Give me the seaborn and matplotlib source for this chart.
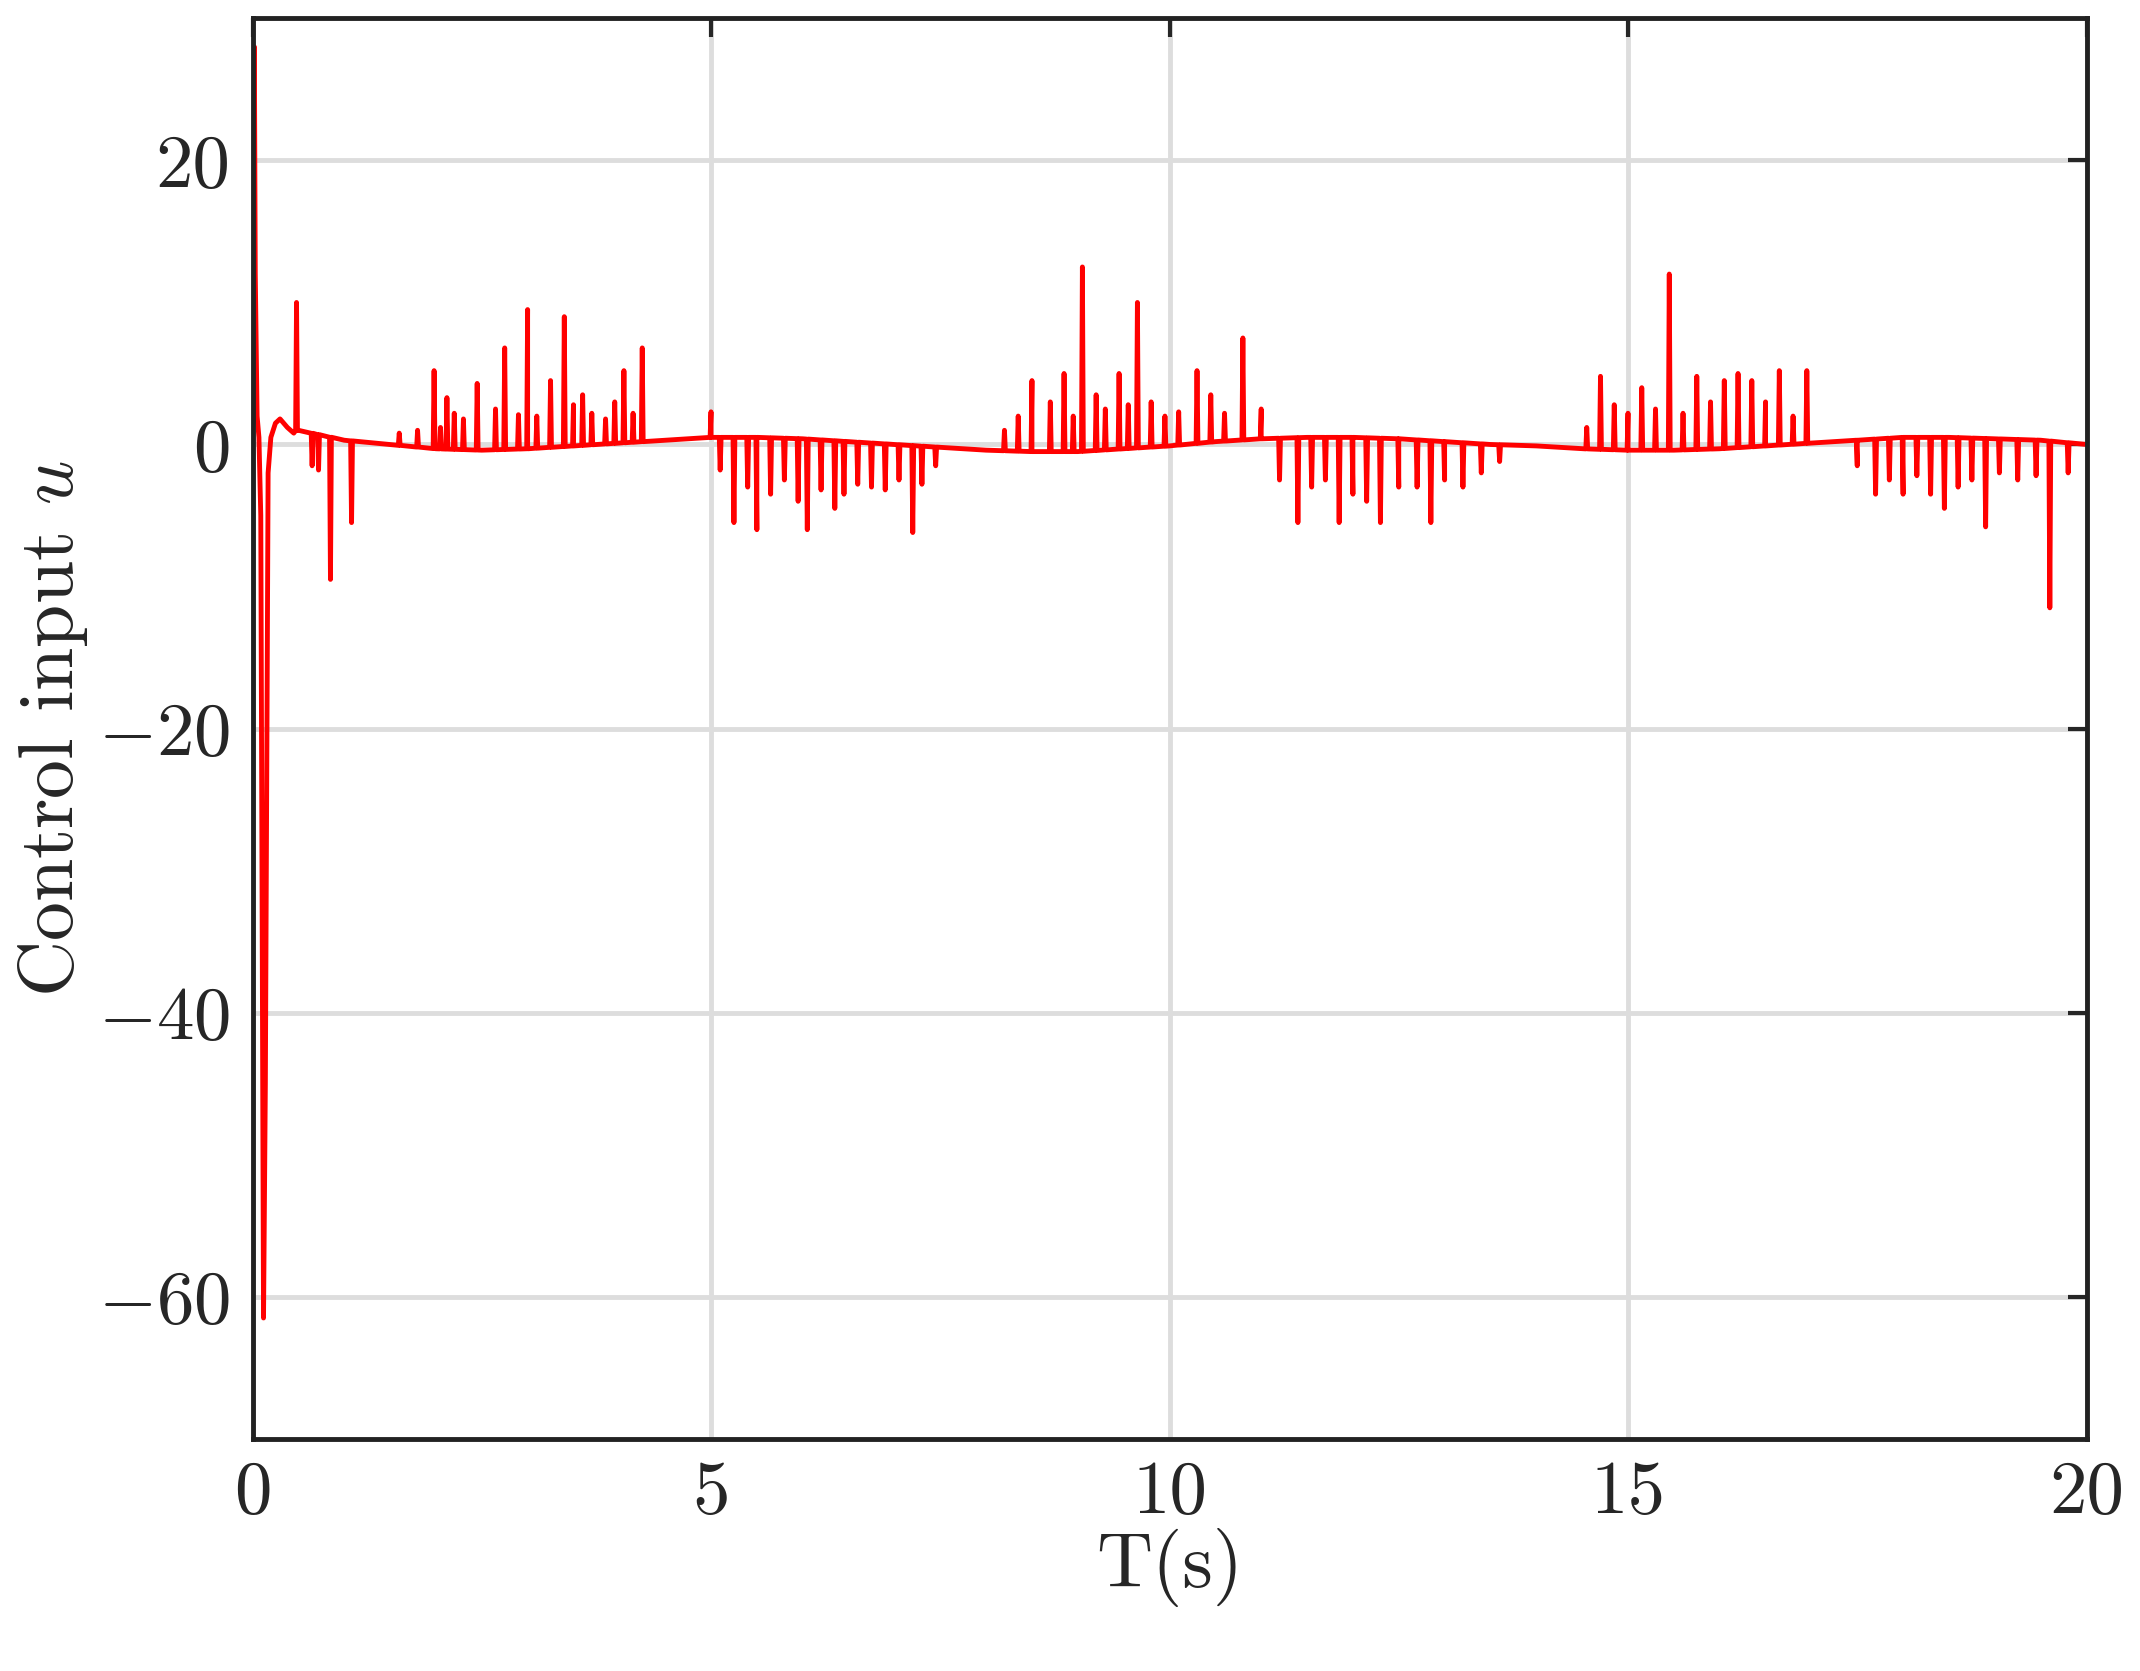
import numpy as np
import pandas as pd
import matplotlib
matplotlib.use("Agg")
import matplotlib.pyplot as plt
import seaborn as sns

# baseline control input (smooth part)
base_t = [0.0,0.5,1.0,1.5,2.0,2.5,3.0,3.5,4.0,4.5,5.0,5.5,6.0,6.5,7.0,7.5,8.0,8.5,9.0,9.5,10.0,
          10.5,11.0,11.5,12.0,12.5,13.0,13.5,14.0,14.5,15.0,15.5,16.0,16.5,17.0,17.5,18.0,18.5,19.0,19.5,20.0]
base_u = [0.5,1.0,0.3,0.0,-0.3,-0.4,-0.3,-0.1,0.1,0.3,0.5,0.5,0.4,0.2,0.0,-0.2,-0.4,-0.5,-0.5,-0.3,-0.1,
          0.2,0.4,0.5,0.5,0.4,0.2,0.0,-0.1,-0.3,-0.4,-0.4,-0.3,-0.1,0.1,0.3,0.5,0.5,0.4,0.3,0.0]

# initial transient
init_t = [0.0,0.02,0.03,0.05,0.07,0.09,0.12,0.14,0.17,0.20,0.25,0.30,0.38,0.45]
init_u = [0.0,28.0,12.0,2.0,0.5,-5.0,-61.5,-45.0,-2.0,0.5,1.5,1.8,1.2,0.8]

# spikes (time, value)
spike_t = [0.48,0.65,0.72,0.85,1.08,1.6,1.8,1.98,2.05,2.12,2.2,2.3,2.45,2.65,2.75,2.9,3.0,3.1,3.25,3.4,3.5,3.6,3.7,3.85,3.95,4.05,4.15,4.25,
           5.0,5.1,5.25,5.4,5.5,5.65,5.8,5.95,6.05,6.2,6.35,6.45,6.6,6.75,6.9,7.05,7.2,7.3,7.45,
           8.2,8.35,8.5,8.7,8.85,8.95,9.05,9.2,9.3,9.45,9.55,9.65,9.8,9.95,10.1,10.3,10.45,10.6,10.8,11.0,
           11.2,11.4,11.55,11.7,11.85,12.0,12.15,12.3,12.5,12.7,12.85,13.0,13.2,13.4,13.6,
           14.55,14.7,14.85,15.0,15.15,15.3,15.45,15.6,15.75,15.9,16.05,16.2,16.35,16.5,16.65,16.8,16.95,
           17.5,17.7,17.85,18.0,18.15,18.3,18.45,18.6,18.75,18.9,19.05,19.25,19.45,19.6,19.8]
spike_u = [10.0,-1.5,-1.8,-9.5,-5.5,0.8,1.0,5.2,1.2,3.3,2.2,1.8,4.3,2.5,6.8,2.1,9.5,2.0,4.5,9.0,2.8,3.5,2.2,1.8,3.0,5.2,2.2,6.8,
           2.3,-1.8,-5.5,-3.0,-6.0,-3.5,-2.5,-4.0,-6.0,-3.2,-4.5,-3.5,-2.8,-3.0,-3.2,-2.5,-6.2,-2.8,-1.5,
           1.0,2.0,4.5,3.0,5.0,2.0,12.5,3.5,2.5,5.0,2.8,10.0,3.0,2.0,2.3,5.2,3.5,2.2,7.5,2.5,
           -2.5,-5.5,-3.0,-2.5,-5.5,-3.5,-4.0,-5.5,-3.0,-3.0,-5.5,-2.5,-3.0,-2.0,-1.2,
           1.2,4.8,2.8,2.2,4.0,2.5,12.0,2.2,4.8,3.0,4.5,5.0,4.5,3.0,5.2,2.0,5.2,
           -1.5,-3.5,-2.5,-3.5,-2.2,-3.5,-4.5,-3.0,-2.5,-5.8,-2.0,-2.5,-2.2,-11.5,-2.0]

x_ticks = [0,5,10,15,20]
y_ticks = [-60,-40,-20,0,20]

# assemble the line: baseline with spikes inserted
bt = np.array(base_t); bu = np.array(base_u)
ts = list(init_t); us = list(init_u)
for t, u in sorted(zip(spike_t, spike_u)):
    b = np.interp(t, bt, bu)
    ts += [t - 0.01, t, t + 0.01]; us += [b, u, b]
for t, u in zip(base_t, base_u):
    if t > 0.45:
        ts.append(t); us.append(u)
order = np.argsort(ts, kind="stable")
df = pd.DataFrame({"t": np.array(ts)[order], "u": np.array(us)[order]})

sns.set_theme(style="white")
plt.rcParams.update({"font.family": "serif", "font.serif": ["cmr10", "DejaVu Serif"],
                     "mathtext.fontset": "cm", "axes.unicode_minus": False,
                     "axes.formatter.use_mathtext": True})

fig = plt.figure(figsize=(21.4, 16.71), dpi=100)
ax = fig.add_axes([0.118, 0.139, 0.857, 0.850])
sns.lineplot(data=df, x="t", y="u", ax=ax, color="red", lw=3.5, sort=False, estimator=None)
ax.set_xlim(0, 20); ax.set_ylim(-70, 30)
ax.set_xticks(x_ticks); ax.set_yticks(y_ticks)
ax.set_xticklabels([str(v) for v in x_ticks])
ax.set_yticklabels([("$-$" + str(-v)) if v < 0 else str(v) for v in y_ticks])
ax.grid(True, color="#dddddd", lw=3.5)
ax.tick_params(direction="in", length=14, width=3, labelsize=54, top=True, right=True, pad=16)
for s in ax.spines.values():
    s.set_linewidth(3.5); s.set_color("#222222")
ax.set_xlabel("T(s)", fontsize=56, labelpad=0)
ax.set_ylabel("Control input $u$", fontsize=56, labelpad=6)
fig.savefig("out.png", dpi=100)
